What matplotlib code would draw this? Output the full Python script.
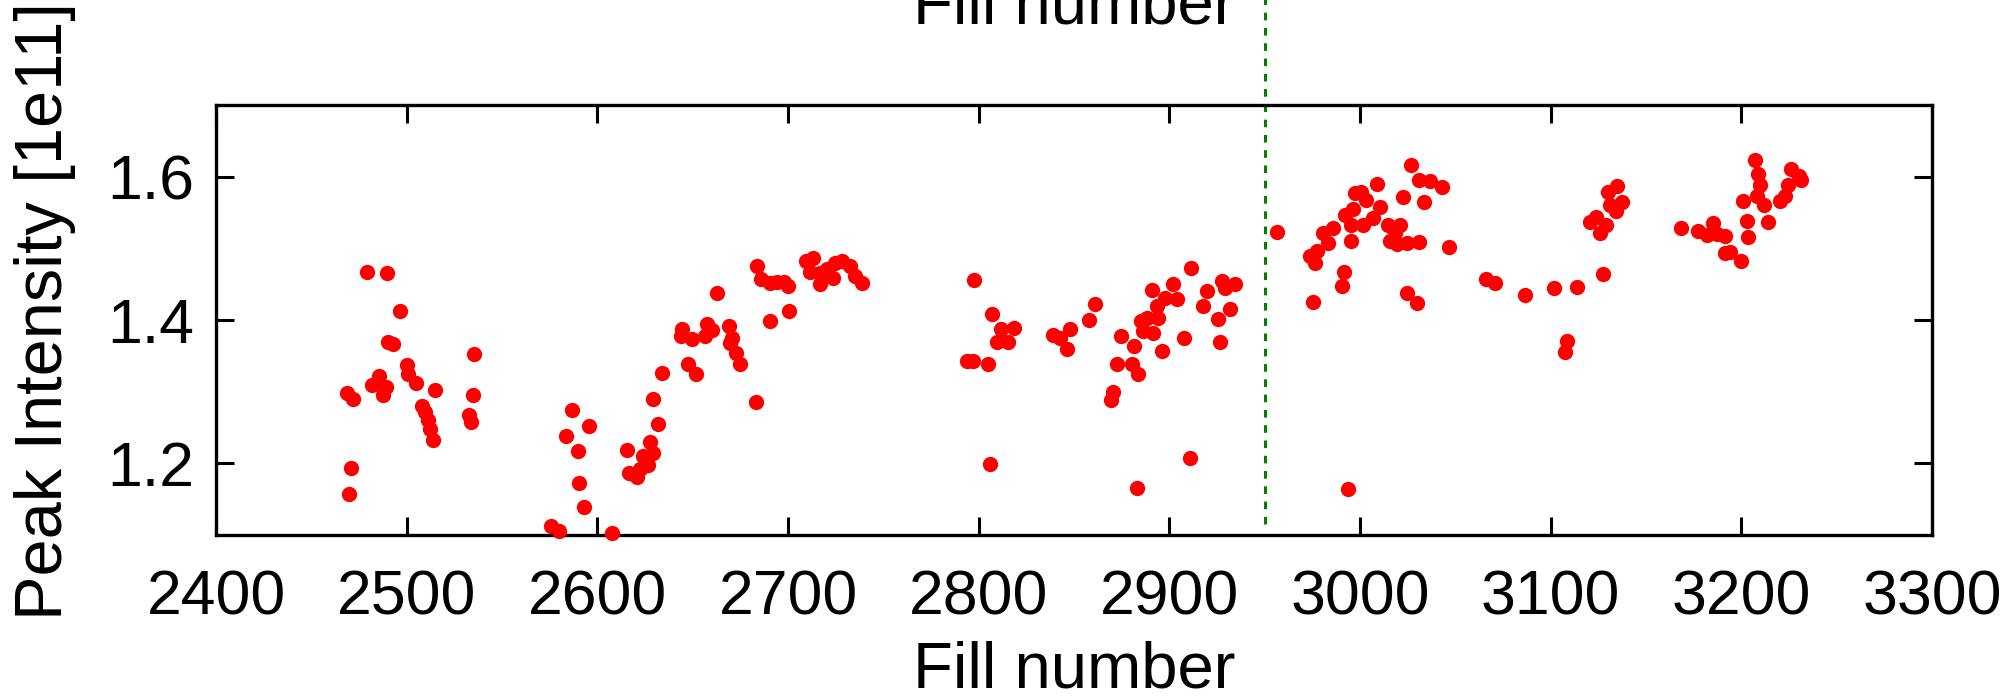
import matplotlib.pyplot as plt
import numpy as np

plt.rcParams['font.family'] = ['Liberation Sans', 'DejaVu Sans']

fill = np.array([
    2468.5, 2472.0, 2470.8, 2469.7, 2479.0, 2489.8, 2496.7, 2490.4, 2493.0, 2500.0,
    2500.9, 2504.9, 2485.6, 2481.6, 2489.0, 2487.4, 2514.8, 2507.8, 2509.6, 2511.3,
    2512.2, 2514.0, 2535.5, 2535.0, 2532.8, 2534.0, 2586.9, 2583.4, 2595.8, 2589.7,
    2590.5, 2593.0, 2575.7, 2579.9, 2607.8, 2615.7, 2616.6, 2620.6, 2622.3, 2626.7,
    2624.0, 2629.0, 2627.6, 2632.0, 2629.3, 2634.0, 2644.5, 2643.7, 2649.4, 2647.7,
    2652.0, 2657.3, 2656.3, 2660.0, 2663.0, 2669.2, 2670.4, 2669.5, 2672.7, 2674.8,
    2683.2, 2683.5, 2685.6, 2690.5, 2694.0, 2697.9, 2700.2, 2690.5, 2700.7, 2709.4,
    2713.2, 2711.5, 2716.7, 2716.7, 2720.2, 2723.8, 2724.6, 2728.1, 2732.5, 2735.1,
    2738.6, 2797.6, 2806.8, 2811.5, 2818.6, 2809.4, 2815.5, 2793.9, 2797.0, 2804.9,
    2805.9, 2839.1, 2842.6, 2847.8, 2846.4, 2857.8, 2861.0, 2869.3, 2870.6, 2872.3,
    2874.9, 2880.2, 2883.7, 2881.4, 2882.8, 2885.4, 2888.1, 2886.3, 2891.5, 2890.7,
    2893.3, 2894.2, 2895.9, 2897.7, 2902.1, 2903.8, 2907.6, 2911.6, 2910.8, 2917.8,
    2919.5, 2925.6, 2926.5, 2927.4, 2929.1, 2931.7, 2934.4, 2956.5, 2973.7, 2976.3,
    2977.2, 2975.4, 2980.6, 2983.3, 2985.9, 2990.8, 2991.7, 2993.8, 2992.3, 2995.5,
    2995.1, 2996.4, 2997.2, 3000.4, 3001.6, 3003.4, 3006.9, 3008.7, 3010.4, 3014.8,
    3015.7, 3018.3, 3019.2, 3020.9, 3024.8, 3022.7, 3024.5, 3029.7, 3026.8, 3031.1,
    3036.7, 3033.8, 3043.1, 3030.8, 3046.7, 3066.3, 3070.7, 3086.8, 3101.7, 3108.6,
    3107.4, 3113.9, 3127.5, 3120.5, 3124.0, 3126.1, 3129.2, 3130.1, 3134.8, 3131.0,
    3134.5, 3137.5, 3168.6, 3177.4, 3181.8, 3185.2, 3187.0, 3191.4, 3191.4, 3194.0,
    3199.8, 3203.6, 3203.1, 3200.7, 3207.1, 3208.8, 3210.0, 3208.0, 3211.8, 3214.1,
    3220.2, 3222.8, 3224.6, 3225.8, 3230.4, 3231.5,
])

intensity = np.array([
    1.298, 1.290, 1.193, 1.157, 1.467, 1.465, 1.412, 1.370, 1.366, 1.337,
    1.325, 1.312, 1.322, 1.309, 1.307, 1.295, 1.302, 1.280, 1.271, 1.261,
    1.248, 1.232, 1.353, 1.295, 1.267, 1.258, 1.274, 1.238, 1.252, 1.217,
    1.173, 1.139, 1.113, 1.105, 1.103, 1.219, 1.187, 1.181, 1.192, 1.197,
    1.210, 1.214, 1.230, 1.255, 1.290, 1.326, 1.387, 1.377, 1.373, 1.338,
    1.324, 1.394, 1.378, 1.386, 1.438, 1.391, 1.375, 1.368, 1.354, 1.338,
    1.285, 1.476, 1.457, 1.452, 1.453, 1.453, 1.447, 1.398, 1.413, 1.482,
    1.487, 1.467, 1.450, 1.466, 1.471, 1.459, 1.480, 1.482, 1.476, 1.461,
    1.451, 1.456, 1.409, 1.388, 1.389, 1.369, 1.369, 1.343, 1.343, 1.338,
    1.199, 1.379, 1.375, 1.388, 1.359, 1.400, 1.422, 1.289, 1.299, 1.338,
    1.378, 1.338, 1.325, 1.364, 1.165, 1.398, 1.403, 1.385, 1.382, 1.442,
    1.419, 1.403, 1.357, 1.431, 1.450, 1.429, 1.375, 1.473, 1.208, 1.419,
    1.440, 1.402, 1.370, 1.454, 1.445, 1.416, 1.450, 1.523, 1.490, 1.480,
    1.496, 1.425, 1.522, 1.507, 1.529, 1.447, 1.467, 1.164, 1.547, 1.510,
    1.532, 1.555, 1.577, 1.579, 1.533, 1.568, 1.543, 1.590, 1.558, 1.533,
    1.510, 1.522, 1.506, 1.532, 1.507, 1.572, 1.438, 1.424, 1.616, 1.596,
    1.594, 1.565, 1.586, 1.509, 1.502, 1.457, 1.452, 1.435, 1.444, 1.371,
    1.356, 1.446, 1.464, 1.537, 1.544, 1.522, 1.533, 1.578, 1.587, 1.561,
    1.552, 1.565, 1.528, 1.524, 1.519, 1.536, 1.520, 1.517, 1.494, 1.495,
    1.482, 1.516, 1.538, 1.566, 1.623, 1.604, 1.589, 1.573, 1.560, 1.537,
    1.566, 1.573, 1.589, 1.611, 1.601, 1.595,
])

xticks = np.arange(2400, 3301, 100)
yticks = [1.2, 1.4, 1.6]
marker_fill = 2950

fig = plt.figure(figsize=(20.13, 6.99), dpi=100)
ax = fig.add_axes([216/2013, 1 - 535/699, (1932-216)/2013, (535-105)/699])

ax.plot(fill, intensity, 'o', color='red', ms=10, mec='red', clip_on=False, zorder=3)
ax.plot([marker_fill, marker_fill], [1.115, 1.85], color='green', lw=2.2,
        linestyle=(0, (2.5, 2.5)), clip_on=False, zorder=2)

ax.set_xlim(2400, 3300)
ax.set_ylim(1.1, 1.7)
ax.set_xticks(xticks)
ax.set_yticks(yticks)
ax.set_yticklabels(['%.1f' % v for v in yticks])
ax.tick_params(direction='in', length=13, width=2.2, top=True, right=True,
               labelsize=45)
ax.tick_params(axis='x', pad=24)
ax.tick_params(axis='y', pad=16)
for s in ax.spines.values():
    s.set_linewidth(2.4)

fig.text(1074/2013, 11/699, 'Fill number', ha='center', va='baseline', fontsize=47)
fig.text(1074/2013, 1 - 24/699, 'Fill number', ha='center', va='baseline', fontsize=47)
fig.text(45/2013, 1 - 311/699, 'Peak Intensity [1e11]',
         rotation=90, ha='center', va='center', fontsize=48)

fig.savefig('out.png', dpi=100)
